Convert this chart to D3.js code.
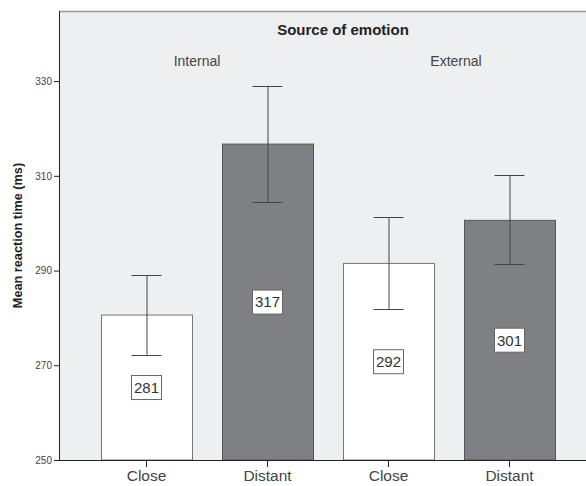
<!DOCTYPE html>
<meta charset="utf-8">
<script src="https://d3js.org/d3.v7.min.js"></script>
<style>
body { margin: 0; background: #fff; }
svg text { font-family: "Liberation Sans", Arial, sans-serif; }
.axis path, .axis line { stroke: #222; }
.y.axis text { font-size: 10px; fill: #444; }
.x.axis text { font-size: 15.5px; fill: #444; }
</style>
<body>
<div id="chart"></div>
</body>
<script>

// bar categories and values
var sources = ["Internal", "Internal", "External", "External"];
var distances = ["Close", "Distant", "Close", "Distant"];
var means = [280.6, 316.7, 291.5, 300.6];
var ciLow = [272.2, 304.5, 281.9, 291.3];
var ciHigh = [289.0, 329.0, 301.3, 310.1];
var meanLabels = ["281", "317", "292", "301"];
var yTicks = [250, 270, 290, 310, 330];

var width = 586, height = 486;
var plotLeft = 59, plotTop = 11, plotBottom = 460;

var svg = d3.select("#chart").append("svg")
    .attr("width", width)
    .attr("height", height);

var keys = means.map(function(d, i) { return i; });

var x = d3.scaleBand()
    .domain(keys)
    .range([86, 570])
    .paddingInner(0.248)
    .paddingOuter(0.124);

var y = d3.scaleLinear()
    .domain([250, 344.8])
    .range([plotBottom, plotTop]);

// plot background
svg.append("rect")
    .attr("x", plotLeft)
    .attr("y", plotTop)
    .attr("width", width - plotLeft)
    .attr("height", plotBottom - plotTop)
    .style("fill", "#eeeff1");

svg.append("line")
    .attr("x1", plotLeft).attr("x2", width)
    .attr("y1", plotTop + 0.5).attr("y2", plotTop + 0.5)
    .style("stroke", "#999")
    .style("stroke-width", 1.5);

// bars
svg.selectAll(".bar")
    .data(keys)
    .enter()
    .append("rect")
    .attr("class", "bar")
    .attr("x", function(i) { return x(i) + 0.5; })
    .attr("y", function(i) { return y(means[i]); })
    .attr("width", x.bandwidth())
    .attr("height", function(i) { return y(250) - y(means[i]); })
    .style("fill", function(i) { return distances[i] == "Close" ? "#ffffff" : "#7f8083"; })
    .style("stroke", function(i) { return distances[i] == "Close" ? "#777" : "#555"; })
    .style("stroke-width", 1);

// error bars
var capHalf = 15;
var err = svg.selectAll(".err")
    .data(keys)
    .enter()
    .append("g")
    .attr("class", "err")
    .style("stroke", "#444")
    .style("stroke-width", 1);

err.append("line")
    .attr("x1", function(i) { return x(i) + x.bandwidth() / 2 + 0.5; })
    .attr("x2", function(i) { return x(i) + x.bandwidth() / 2 + 0.5; })
    .attr("y1", function(i) { return y(ciLow[i]); })
    .attr("y2", function(i) { return y(ciHigh[i]); });

[ciLow, ciHigh].forEach(function(arr) {
    err.append("line")
        .attr("x1", function(i) { return x(i) + x.bandwidth() / 2 - capHalf; })
        .attr("x2", function(i) { return x(i) + x.bandwidth() / 2 + capHalf; })
        .attr("y1", function(i) { return Math.round(y(arr[i])) + 0.5; })
        .attr("y2", function(i) { return Math.round(y(arr[i])) + 0.5; });
});

// value labels in the middle of each bar
var lab = svg.selectAll(".lab")
    .data(keys)
    .enter()
    .append("g")
    .attr("class", "lab")
    .attr("transform", function(i) {
        return "translate(" + (x(i) + x.bandwidth() / 2) + "," + ((y(means[i]) + y(250)) / 2) + ")";
    });

lab.append("rect")
    .attr("x", -15).attr("y", -12)
    .attr("width", 30).attr("height", 24)
    .style("fill", "#fff")
    .style("stroke", "#666");

lab.append("text")
    .attr("text-anchor", "middle")
    .attr("dy", "0.36em")
    .style("font-size", "15px")
    .style("fill", "#333")
    .text(function(i) { return meanLabels[i]; });

// axes
var yAxis = d3.axisLeft(y).tickValues(yTicks).tickSize(5).tickPadding(2);
svg.append("g")
    .attr("class", "y axis")
    .attr("transform", "translate(" + plotLeft + ",0)")
    .call(yAxis)
    .call(function(g) { g.select(".domain").attr("d", "M0.5," + plotTop + "V" + plotBottom); });

var xAxis = d3.axisBottom(x).tickSize(7).tickPadding(3)
    .tickFormat(function(i) { return distances[i]; });
svg.append("g")
    .attr("class", "x axis")
    .attr("transform", "translate(0," + plotBottom + ")")
    .call(xAxis)
    .call(function(g) { g.select(".domain").attr("d", "M" + plotLeft + ",0.5H" + width); });

svg.append("text")
    .attr("transform", "translate(22," + (plotTop + plotBottom) / 2 + ") rotate(-90)")
    .attr("text-anchor", "middle")
    .style("font-size", "12.7px")
    .style("font-weight", "bold")
    .style("fill", "#222")
    .text("Mean reaction time (ms)");

// panel header
svg.append("text")
    .attr("x", 343)
    .attr("y", 35)
    .attr("text-anchor", "middle")
    .style("font-size", "15px")
    .style("font-weight", "bold")
    .style("fill", "#222")
    .text("Source of emotion");

var groups = ["Internal", "External"];
var groupOffset = [-10, 7];
svg.selectAll(".grp")
    .data(groups)
    .enter()
    .append("text")
    .attr("class", "grp")
    .attr("x", function(g, j) {
        var idx = keys.filter(function(i) { return sources[i] == g; });
        return (x(idx[0]) + x(idx[1]) + x.bandwidth()) / 2 + groupOffset[j];
    })
    .attr("y", 66)
    .attr("text-anchor", "middle")
    .style("font-size", "14px")
    .style("fill", "#444")
    .text(function(g) { return g; });

</script>
